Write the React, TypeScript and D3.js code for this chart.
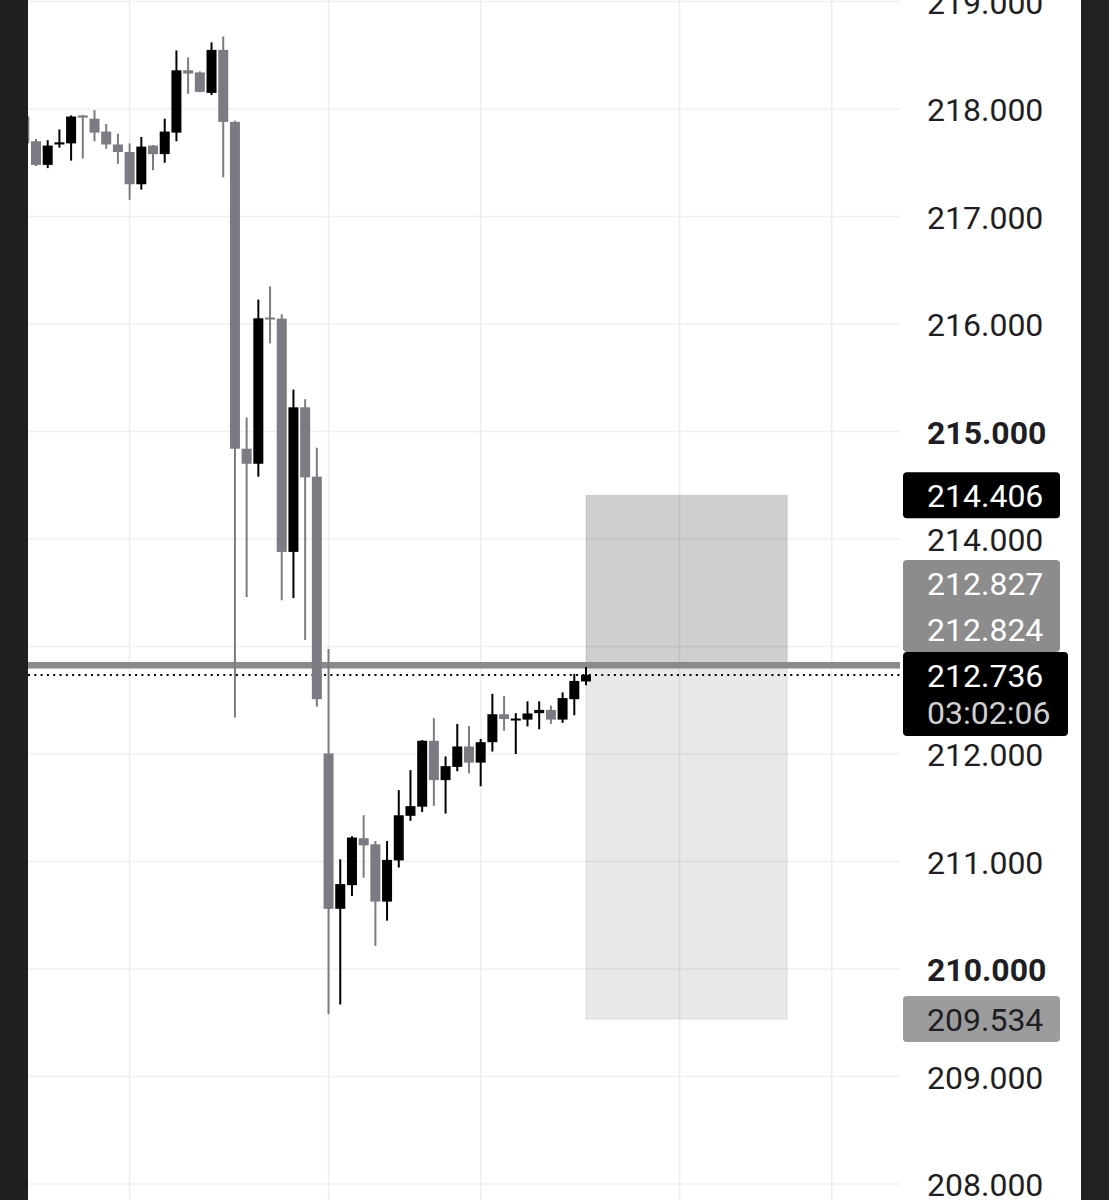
import React from "react";
import * as d3 from "d3";

// candle index -1 .. 47
const firstIndex = -1;
const opens = [217.93, 217.70, 217.48, 217.67, 217.68, 217.94, 217.91, 217.79, 217.67, 217.60, 217.30, 217.66, 217.58, 217.78, 218.36, 218.34, 218.15, 218.55, 217.88, 214.84, 214.70, 216.06, 216.05, 213.88, 215.225, 214.58, 212.005, 210.56, 210.78, 211.217, 211.16, 210.627, 211.01, 211.425, 211.51, 212.123, 211.757, 211.88, 212.07, 211.92, 212.11, 212.37, 212.327, 212.32, 212.38, 212.41, 212.32, 212.51, 212.675];
const highs = [217.95, 217.72, 217.71, 217.81, 217.94, 217.945, 217.99, 217.86, 217.77, 217.68, 217.74, 217.665, 217.91, 218.545, 218.48, 218.35, 218.62, 218.675, 217.89, 215.13, 216.227, 216.35, 216.09, 215.39, 215.30, 214.85, 212.976, 211.02, 211.235, 211.43, 211.19, 211.19, 211.664, 211.85, 212.13, 212.334, 211.977, 212.28, 212.26, 212.14, 212.56, 212.54, 212.38, 212.49, 212.49, 212.45, 212.573, 212.745, 212.81];
const lows = [217.60, 217.47, 217.45, 217.64, 217.52, 217.54, 217.70, 217.63, 217.49, 217.155, 217.25, 217.43, 217.50, 217.70, 218.14, 218.155, 218.13, 217.365, 212.34, 213.46, 214.58, 215.82, 213.43, 213.45, 213.06, 212.44, 209.58, 209.67, 210.68, 210.85, 210.215, 210.45, 210.944, 211.378, 211.46, 211.518, 211.446, 211.84, 211.82, 211.70, 212.023, 212.216, 212.0, 212.256, 212.23, 212.28, 212.29, 212.36, 212.64];
const closes = [217.68, 217.48, 217.66, 217.69, 217.93, 217.92, 217.78, 217.67, 217.60, 217.30, 217.65, 217.58, 217.79, 218.36, 218.33, 218.16, 218.55, 217.88, 214.84, 214.70, 216.053, 216.05, 213.88, 215.225, 214.573, 212.51, 210.56, 210.79, 211.223, 211.15, 210.627, 211.015, 211.43, 211.515, 212.123, 211.757, 211.887, 212.07, 211.92, 212.11, 212.37, 212.325, 212.33, 212.377, 212.41, 212.32, 212.52, 212.68, 212.736];

const yTicks = [208, 209, 210, 211, 212, 214, 215, 216, 217, 218, 219];
const boldTicks = [210, 215];
const vGridIndex = [8, 25, 38, 55, 68];

const targetPrice = 214.406;
const stopPrice = 209.534;
const entryPrices = [212.827, 212.824];
const lastPrice = 212.736;
const countdown = "03:02:06";
const zoneStartIndex = 47;
const zoneEndIndex = 64.2;

const W = 1109;
const H = 1200;
const plotLeft = 28;
const plotRight = 900;

export default function App() {
  const y = d3.scaleLinear().domain([208, 219]).range([1184, 1.5]);
  const x = d3.scaleLinear().domain([0, 47]).range([36, 586]);
  const fmt = d3.format(".3f");
  const candles = opens.map((o, k) => ({
    i: k + firstIndex,
    o,
    h: highs[k],
    l: lows[k],
    c: closes[k],
  }));
  const bodyW = 10;
  const black = "#000000";
  const gray = "#7b7b84";
  const font = "Roboto, 'Noto Sans', sans-serif";
  const fs = 32;

  const boxX = 903;
  const boxW = 157;
  const boxH = 46;
  const lastTop = y(lastPrice) - 23;
  const e2Top = lastTop - boxH;
  const e1Top = e2Top - boxH;

  return (
    <svg
      width={W}
      height={H}
      style={{ position: "absolute", left: 0, top: 0, background: "#ffffff" }}
      fontFamily={font}
    >
      <defs>
        <clipPath id="plot">
          <rect x={plotLeft} y={0} width={plotRight - plotLeft} height={H} />
        </clipPath>
      </defs>
      <rect x={0} y={0} width={W} height={H} fill="#ffffff" />
      <g clipPath="url(#plot)">
        {yTicks.concat([213]).map((t) => (
          <line key={"hg" + t} x1={plotLeft} x2={plotRight} y1={y(t)} y2={y(t)} stroke="#f0f0f0" strokeWidth={1.5} />
        ))}
        {vGridIndex.map((g) => (
          <line key={"vg" + g} x1={x(g)} x2={x(g)} y1={0} y2={H} stroke="#ededed" strokeWidth={1.5} />
        ))}
        {/* position zones */}
        <rect
          x={x(zoneStartIndex)}
          width={x(zoneEndIndex) - x(zoneStartIndex)}
          y={y(targetPrice)}
          height={y(entryPrices[0]) - y(targetPrice)}
          fill="rgba(0,0,0,0.19)"
          stroke="rgba(0,0,0,0.08)"
          strokeWidth={1.5}
        />
        <rect
          x={x(zoneStartIndex)}
          width={x(zoneEndIndex) - x(zoneStartIndex)}
          y={y(entryPrices[1])}
          height={y(stopPrice) - y(entryPrices[1])}
          fill="rgba(0,0,0,0.09)"
          stroke="rgba(0,0,0,0.05)"
          strokeWidth={1.5}
        />
        {entryPrices.map((p, k) => (
          <line key={"ep" + k} x1={plotLeft} x2={plotRight} y1={y(p)} y2={y(p)} stroke="#8a8a8a" strokeWidth={6} />
        ))}
        <line
          x1={plotLeft}
          x2={plotRight}
          y1={y(lastPrice)}
          y2={y(lastPrice)}
          stroke="#000"
          strokeWidth={2}
          strokeDasharray="2,4.3"
        />
        {candles.map((d) => {
          const up = d.c >= d.o;
          const col = up ? black : gray;
          const cx = x(d.i);
          const top = y(Math.max(d.o, d.c));
          const bot = y(Math.min(d.o, d.c));
          const bh = Math.max(2, bot - top);
          return (
            <g key={"c" + d.i}>
              <line x1={cx} x2={cx} y1={y(d.h)} y2={y(d.l)} stroke={col} strokeWidth={2} />
              <rect x={cx - bodyW / 2} y={top} width={bodyW} height={bh} fill={col} />
            </g>
          );
        })}
      </g>
      {/* axis tick labels */}
      {yTicks.map((t) => (
        <text
          key={"t" + t}
          x={927}
          y={y(t) + 12}
          fontSize={fs}
          fontWeight={boldTicks.includes(t) ? 700 : 400}
          fill="#1e1e24"
        >
          {fmt(t)}
        </text>
      ))}
      {/* price labels */}
      <rect x={boxX} y={y(targetPrice) - boxH / 2} width={boxW} height={boxH} rx={4} fill="#000" />
      <text x={927} y={y(targetPrice) + 12} fontSize={fs} fill="#fff">{fmt(targetPrice)}</text>

      <rect x={boxX} y={e1Top} width={boxW} height={boxH * 2} rx={4} fill="#8c8c8c" />
      <text x={927} y={e1Top + boxH / 2 + 12} fontSize={fs} fill="#fff">{fmt(entryPrices[0])}</text>
      <text x={927} y={e2Top + boxH / 2 + 12} fontSize={fs} fill="#fff">{fmt(entryPrices[1])}</text>

      <rect x={boxX} y={lastTop} width={165} height={84} rx={4} fill="#000" />
      <text x={927} y={y(lastPrice) + 12} fontSize={fs} fill="#fff">{fmt(lastPrice)}</text>
      <text x={927} y={y(lastPrice) + 49} fontSize={fs} fill="#d0d0d0">{countdown}</text>

      <rect x={boxX} y={y(stopPrice) - boxH / 2} width={boxW} height={boxH} rx={4} fill="#9c9c9c" />
      <text x={927} y={y(stopPrice) + 12} fontSize={fs} fill="#1e1e24">{fmt(stopPrice)}</text>

      {/* dark side strips */}
      <rect x={0} y={0} width={plotLeft} height={H} fill="#1f1f1f" />
      <rect x={1081} y={0} width={W - 1081} height={H} fill="#212121" />
    </svg>
  );
}
